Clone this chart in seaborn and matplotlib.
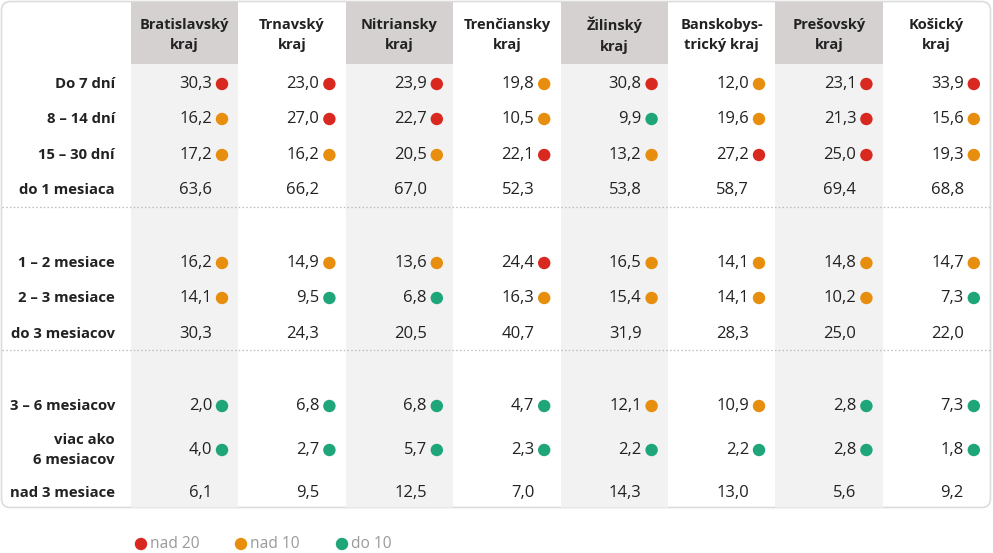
import numpy as np
import pandas as pd
import matplotlib.pyplot as plt
from matplotlib.patches import FancyBboxPatch, Rectangle
import seaborn as sns

regiony = ["Bratislavský\nkraj", "Trnavský\nkraj", "Nitriansky\nkraj", "Trenčiansky\nkraj",
           "Žilinský\nkraj", "Banskobys-\ntrický kraj", "Prešovský\nkraj", "Košický\nkraj"]
riadky = ["Do 7 dní", "8 – 14 dní", "15 – 30 dní", "do 1 mesiaca",
          "1 – 2 mesiace", "2 – 3 mesiace", "do 3 mesiacov",
          "3 – 6 mesiacov", "viac ako\n6 mesiacov", "nad 3 mesiace"]

hodnoty = {
    "Do 7 dní":        [30.3, 23.0, 23.9, 19.8, 30.8, 12.0, 23.1, 33.9],
    "8 – 14 dní":      [16.2, 27.0, 22.7, 10.5, 9.9, 19.6, 21.3, 15.6],
    "15 – 30 dní":     [17.2, 16.2, 20.5, 22.1, 13.2, 27.2, 25.0, 19.3],
    "do 1 mesiaca":    [63.6, 66.2, 67.0, 52.3, 53.8, 58.7, 69.4, 68.8],
    "1 – 2 mesiace":   [16.2, 14.9, 13.6, 24.4, 16.5, 14.1, 14.8, 14.7],
    "2 – 3 mesiace":   [14.1, 9.5, 6.8, 16.3, 15.4, 14.1, 10.2, 7.3],
    "do 3 mesiacov":   [30.3, 24.3, 20.5, 40.7, 31.9, 28.3, 25.0, 22.0],
    "3 – 6 mesiacov":  [2.0, 6.8, 6.8, 4.7, 12.1, 10.9, 2.8, 7.3],
    "viac ako\n6 mesiacov": [4.0, 2.7, 5.7, 2.3, 2.2, 2.2, 2.8, 1.8],
    "nad 3 mesiace":   [6.1, 9.5, 12.5, 7.0, 14.3, 13.0, 5.6, 9.2],
}
# farba bodky podla obrazku (r = nad 20, o = nad 10, g = do 10)
kategorie = {
    "Do 7 dní":        ["r", "r", "r", "o", "r", "o", "r", "r"],
    "8 – 14 dní":      ["o", "r", "r", "o", "g", "o", "r", "o"],
    "15 – 30 dní":     ["o", "o", "o", "r", "o", "r", "r", "o"],
    "1 – 2 mesiace":   ["o", "o", "o", "r", "o", "o", "o", "o"],
    "2 – 3 mesiace":   ["o", "g", "g", "o", "o", "o", "o", "g"],
    "3 – 6 mesiacov":  ["g", "g", "g", "g", "o", "o", "g", "g"],
    "viac ako\n6 mesiacov": ["g", "g", "g", "g", "g", "g", "g", "g"],
}
legenda = ["nad 20", "nad 10", "do 10"]
farby = {"r": "#d8281f", "o": "#e88e0e", "g": "#1fa57a"}

# rozlozenie v pixeloch
W, H = 993, 553
x0, sirka = 131, 107.4
y_riadkov = [84, 119, 155, 190, 263, 298, 334, 406, 450, 493]
y_ciar = [207, 350]

rows = []
for r, y in zip(riadky, y_riadkov):
    for i, v in enumerate(hodnoty[r]):
        rows.append({"riadok": r, "i": i, "y": y, "hodnota": v,
                     "kat": kategorie[r][i] if r in kategorie else None})
df = pd.DataFrame(rows)
df["x_num"] = x0 + df["i"] * sirka + 81
df["x_dot"] = x0 + df["i"] * sirka + 91

fig = plt.figure(figsize=(W / 100, H / 100), dpi=100)
ax = fig.add_axes([0, 0, 1, 1])
ax.set_xlim(0, W)
ax.set_ylim(H, 0)
ax.axis("off")
plt.rcParams["font.family"] = ["Open Sans", "DejaVu Sans"]

box = FancyBboxPatch((1.5, 1.5), 989, 506, boxstyle="round,pad=0,rounding_size=9",
                     facecolor="white", edgecolor="#dcdcdc", lw=1.2, zorder=0)
ax.add_patch(box)

for i, reg in enumerate(regiony):
    left = x0 + i * sirka
    if i % 2 == 0:
        ax.add_patch(Rectangle((left, 1.5), sirka, 62, facecolor="#d5d1d1", lw=0,
                               zorder=1, clip_path=box))
        ax.add_patch(Rectangle((left, 63.5), sirka, 444, facecolor="#f2f2f2", lw=0,
                               zorder=1, clip_path=box))
    ax.text(left + sirka / 2, 35, reg, ha="center", va="center", fontsize=10.5,
            fontweight="bold", color="#222222", linespacing=1.6, zorder=3)

for y in y_ciar:
    ax.plot([2, 990], [y, y], ls=(0, (1.2, 1.8)), color="#bbbbbb", lw=0.9, zorder=2)

for r, y in zip(riadky, y_riadkov):
    ax.text(115, y, r, ha="right", va="center", fontsize=10.7, fontweight="bold",
            color="#222222", linespacing=1.5, zorder=3)

for _, row in df.iterrows():
    ax.text(row["x_num"], row["y"], f"{row['hodnota']:.1f}".replace(".", ","),
            ha="right", va="center", fontsize=12, color="#222222", zorder=3)

bodky = df.dropna(subset=["kat"])
sns.scatterplot(data=bodky, x="x_dot", y="y", hue="kat", palette=farby, s=80,
                linewidth=0, legend=False, ax=ax, zorder=4)

leg = pd.DataFrame({"x": [141, 241, 342], "y": [544, 544, 544],
                    "kat": ["r", "o", "g"], "text": legenda})
sns.scatterplot(data=leg, x="x", y="y", hue="kat", palette=farby, s=80,
                linewidth=0, legend=False, ax=ax, zorder=4)
for _, row in leg.iterrows():
    ax.text(row["x"] + 9, row["y"], row["text"], ha="left", va="center",
            fontsize=11.2, color="#9a9a9a")

ax.set_xlim(0, W)
ax.set_ylim(H, 0)
fig.savefig("out.png", dpi=100)
